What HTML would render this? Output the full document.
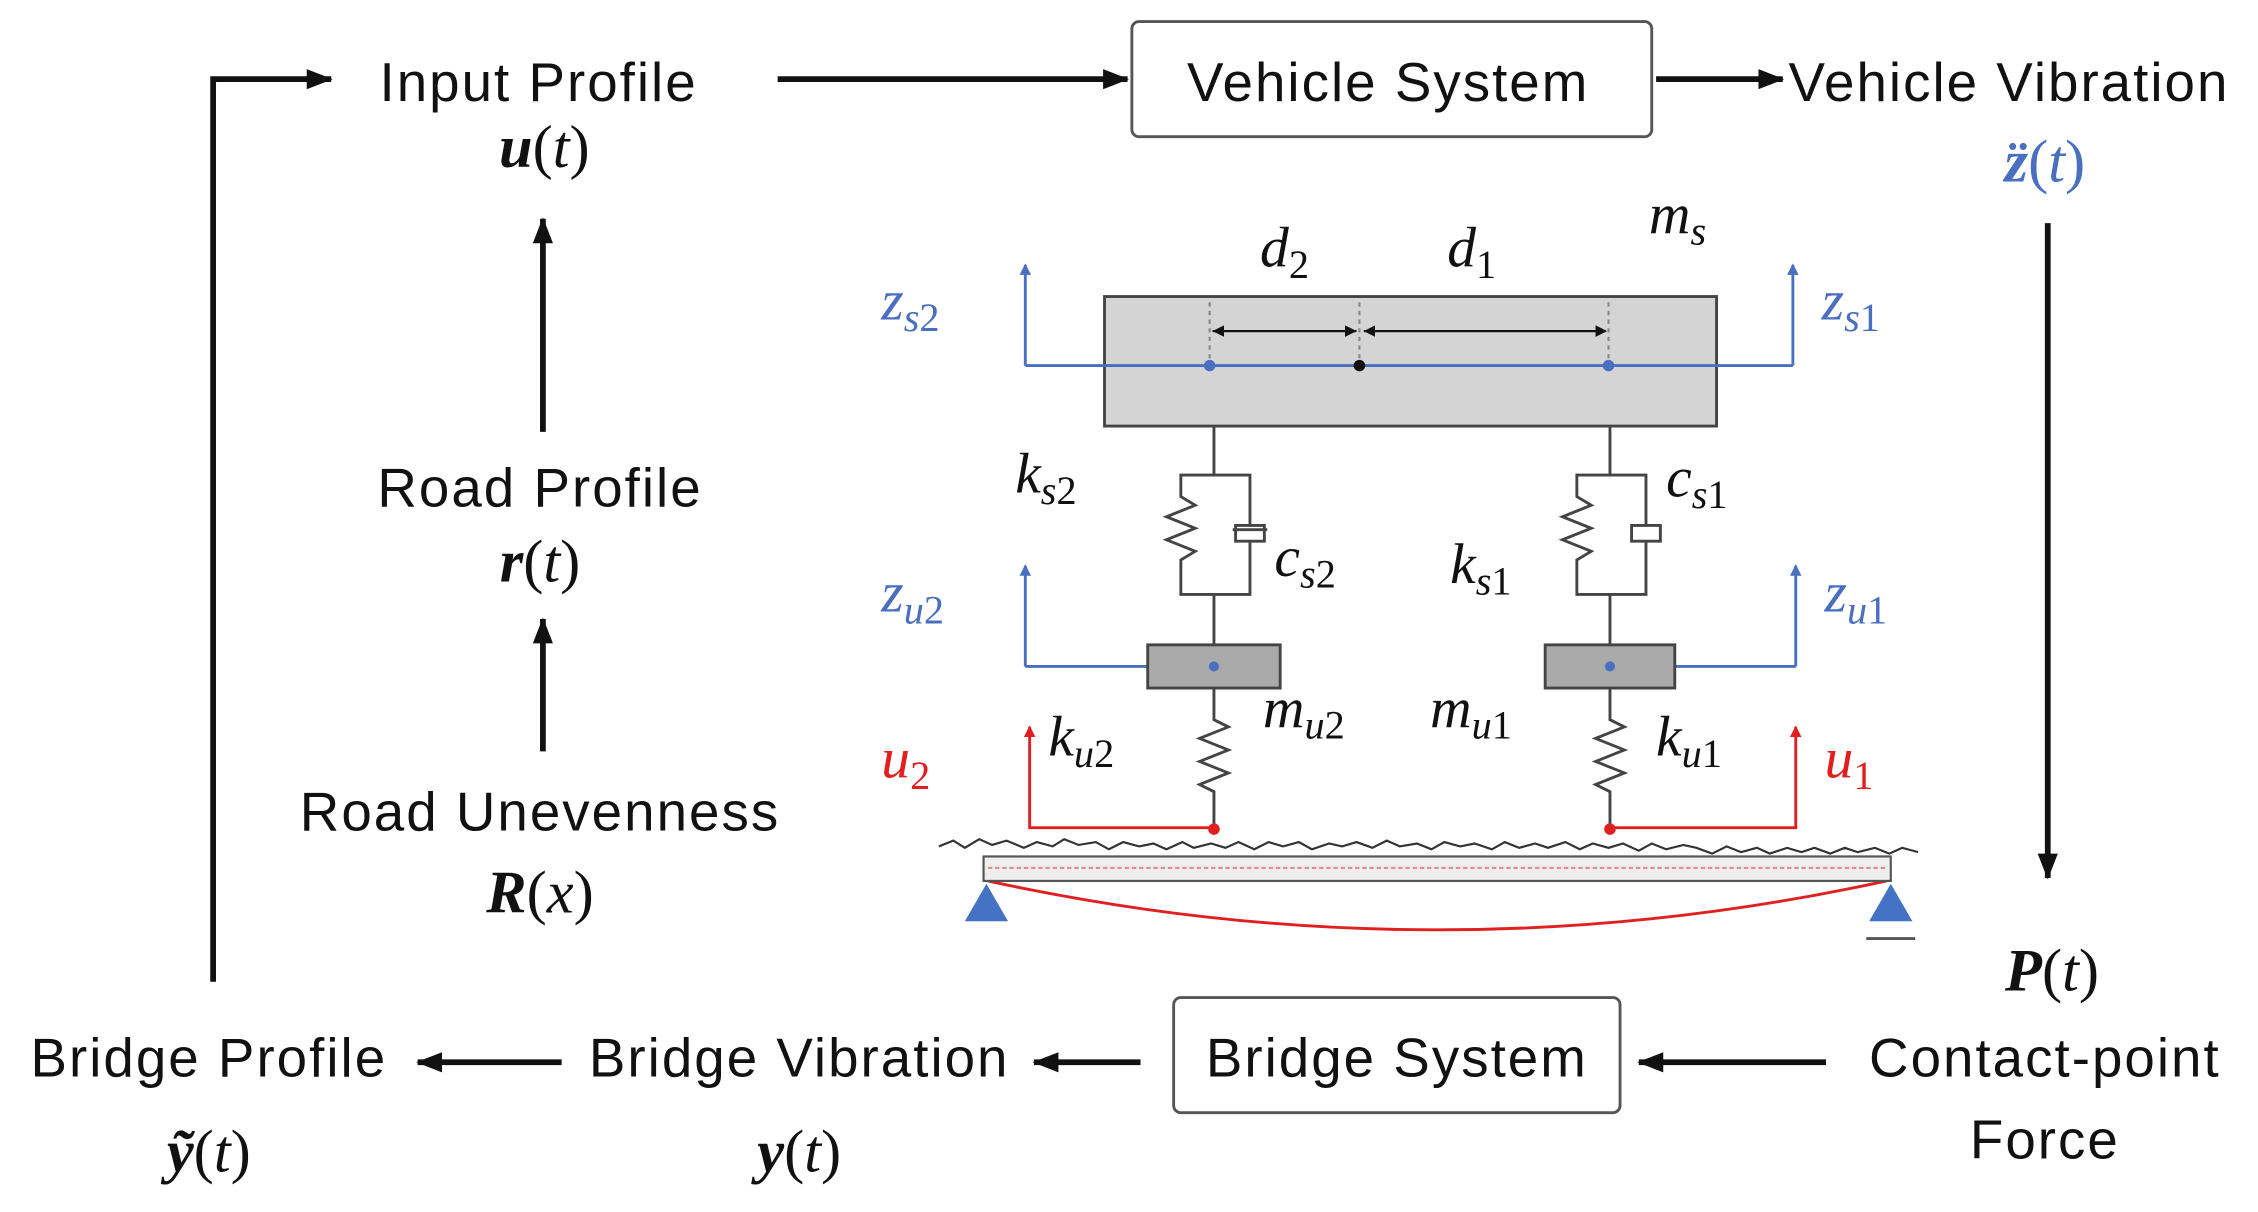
<!DOCTYPE html>
<html><head><meta charset="utf-8"><style>
html,body{margin:0;padding:0;background:#fff;}
svg{display:block;}
.t{font-family:"Liberation Sans",sans-serif;font-size:38px;letter-spacing:1.4px;fill:#111;}
.m{font-family:"Liberation Serif",serif;font-style:italic;font-size:40px;fill:#111;}
.mb{font-family:"Liberation Serif",serif;font-style:italic;font-weight:bold;font-size:42px;fill:#111;}
.p{font-style:normal;font-weight:normal;}
.b{fill:#4a6fc0;} .r{fill:#e02020;}
</style></head><body>
<svg width="2258" height="1212" viewBox="0 0 1568 842" preserveAspectRatio="none" xmlns="http://www.w3.org/2000/svg">
<defs>
<marker id="a" markerWidth="8" markerHeight="8" refX="7" refY="4" orient="auto" markerUnits="userSpaceOnUse" viewBox="0 0 8 8"><path d="M0,0 L8,4 L0,8z" fill="#111"/></marker>
<marker id="A" markerWidth="18" markerHeight="14" refX="17" refY="7" orient="auto" markerUnits="userSpaceOnUse"><path d="M0,0 L18,7 L0,14z" fill="#111"/></marker>
<marker id="bl" markerWidth="8" markerHeight="8" refX="7" refY="4" orient="auto" markerUnits="userSpaceOnUse"><path d="M0,0 L8,4 L0,8z" fill="#4a6fc0"/></marker>
<marker id="rd" markerWidth="8" markerHeight="8" refX="7" refY="4" orient="auto" markerUnits="userSpaceOnUse"><path d="M0,0 L8,4 L0,8z" fill="#e02020"/></marker>
</defs>
<g stroke="#111" stroke-width="4" fill="none">
<path d="M148,682 V55 H230" marker-end="url(#A)"/>
<path d="M540,55 H783" marker-end="url(#A)"/>
<path d="M1150,55 H1238" marker-end="url(#A)"/>
<path d="M1422,155 V610" marker-end="url(#A)"/>
<path d="M1268,738 H1138" marker-end="url(#A)"/>
<path d="M792,738 H718" marker-end="url(#A)"/>
<path d="M390,738 H290" marker-end="url(#A)"/>
<path d="M377,300 V152" marker-end="url(#A)"/>
<path d="M377,522 V430" marker-end="url(#A)"/>
</g>
<rect x="786" y="15" width="361" height="80" rx="5" fill="#fff" stroke="#555" stroke-width="2"/>
<rect x="815" y="693" width="310" height="80" rx="5" fill="#fff" stroke="#555" stroke-width="2"/>
<text class="t" x="964" y="70" text-anchor="middle">Vehicle System</text>
<text class="t" x="970" y="748" text-anchor="middle">Bridge System</text>
<text class="t" x="374" y="70" text-anchor="middle">Input Profile</text>
<text class="mb" x="378" y="116" text-anchor="middle">u<tspan class="p">(</tspan><tspan font-weight="normal">t</tspan><tspan class="p">)</tspan></text>
<text class="t" x="1242" y="70">Vehicle Vibration</text>
<text class="mb b" x="1420" y="126" text-anchor="middle">z̈<tspan class="p">(</tspan><tspan font-weight="normal">t</tspan><tspan class="p">)</tspan></text>
<text class="t" x="375" y="352" text-anchor="middle">Road Profile</text>
<text class="mb" x="375" y="404" text-anchor="middle">r<tspan class="p">(</tspan><tspan font-weight="normal">t</tspan><tspan class="p">)</tspan></text>
<text class="t" x="375" y="577" text-anchor="middle">Road Unevenness</text>
<text class="mb" x="375" y="634" text-anchor="middle">R<tspan class="p">(</tspan><tspan font-weight="normal">x</tspan><tspan class="p">)</tspan></text>
<text class="mb" x="1425" y="688" text-anchor="middle">P<tspan class="p">(</tspan><tspan font-weight="normal">t</tspan><tspan class="p">)</tspan></text>
<text class="t" x="1420" y="748" text-anchor="middle">Contact-point</text>
<text class="t" x="1420" y="805" text-anchor="middle">Force</text>
<text class="t" x="555" y="748" text-anchor="middle">Bridge Vibration</text>
<text class="mb" x="555" y="814" text-anchor="middle">y<tspan class="p">(</tspan><tspan font-weight="normal">t</tspan><tspan class="p">)</tspan></text>
<text class="t" x="145" y="748" text-anchor="middle">Bridge Profile</text>
<text class="mb" x="145" y="814" text-anchor="middle">ỹ<tspan class="p">(</tspan><tspan font-weight="normal">t</tspan><tspan class="p">)</tspan></text>
<rect x="767" y="206" width="425" height="90" fill="#d4d4d4" stroke="#444" stroke-width="2"/>
<g stroke="#888" stroke-width="1.5" stroke-dasharray="3,3"><path d="M840,210 V254 M944,210 V254 M1117,210 V254"/></g>
<g stroke="#111" stroke-width="1.5"><path d="M842,230 H941" marker-end="url(#a)"/><path d="M942,230 H843" marker-end="url(#a)"/><path d="M947,230 H1115" marker-end="url(#a)"/><path d="M1114,230 H948" marker-end="url(#a)"/></g>
<g stroke="#4a6fc0" stroke-width="2" fill="none">
<path d="M712,254 H1245"/><path d="M712,254 V184" marker-end="url(#bl)"/><path d="M1245,254 V184" marker-end="url(#bl)"/>
<path d="M712,463 H843 M1118,463 H1247"/><path d="M712,463 V393" marker-end="url(#bl)"/><path d="M1247,463 V393" marker-end="url(#bl)"/>
</g>
<circle cx="840" cy="254" r="4" fill="#4a6fc0"/><circle cx="944" cy="254" r="4" fill="#111"/><circle cx="1117" cy="254" r="4" fill="#4a6fc0"/>
<g stroke="#444" stroke-width="2" fill="none">
<path d="M843,296 V330 H820 V345 l10,6 l-20,8 l20,8 l-20,8 l20,8 l-10,6 V413 H843 V448 M843,330 H868 V365 M856,368 H880 M868,376 V413 H843 M858,365 H878 V376 H858 Z"/>
<path d="M1118,296 V330 H1095 V345 l10,6 l-20,8 l20,8 l-20,8 l20,8 l-10,6 V413 H1118 V448 M1118,330 H1143 V365 M1143,376 V413 H1118 M1133,365 H1153 V376 H1133 Z"/>
<path d="M843,478 V500 l10,5 l-20,8 l20,8 l-20,8 l20,8 l-20,8 l10,5 V575"/>
<path d="M1118,478 V500 l10,5 l-20,8 l20,8 l-20,8 l20,8 l-20,8 l10,5 V575"/>
</g>
<rect x="797" y="448" width="92" height="30" fill="#aaa" stroke="#444" stroke-width="2"/>
<rect x="1073" y="448" width="90" height="30" fill="#aaa" stroke="#444" stroke-width="2"/>
<circle cx="843" cy="463" r="3.5" fill="#4a6fc0"/><circle cx="1118" cy="463" r="3.5" fill="#4a6fc0"/>
<g stroke="#e02020" stroke-width="2" fill="none">
<path d="M843,575 H715 V505" marker-end="url(#rd)"/><path d="M1118,575 H1247 V505" marker-end="url(#rd)"/>
<path d="M686,612 Q998,680 1310,612"/>
</g>
<circle cx="843" cy="576" r="4" fill="#e02020"/><circle cx="1118" cy="576" r="4" fill="#e02020"/>
<path d="M652,588 l10,-4 l8,5 l10,-6 l9,4 l10,-3 l12,5 l9,-4 l11,3 l8,-5 l10,4 l12,-2 l9,5 l10,-5 l11,3 l10,-2 l9,4 l11,-5 l8,4 l12,-3 l10,3 l9,-4 l11,5 l10,-5 l10,3 l11,-3 l9,5 l12,-4 l9,2 l10,-3 l11,4 l10,-5 l9,4 l12,-2 l10,4 l9,-5 l11,3 l10,-2 l12,4 l9,-5 l10,4 l11,-3 l9,3 l12,-4 l10,5 l9,-4 l11,3 l10,-3 l11,5 l9,-5 l10,4 l12,-3 l9,2 l11,4 l10,-5 l10,4 l11,-3 l9,4 l12,-4 l10,3 l9,-3 l11,4 l10,-4 l9,3 l12,-3 l10,4 l9,-4 l11,3" stroke="#333" stroke-width="1.5" fill="none"/>
<rect x="683" y="595" width="630" height="17" fill="#eee" stroke="#555" stroke-width="1.5"/>
<path d="M686,603 H1310" stroke="#e88" stroke-width="1.5" stroke-dasharray="3,2"/>
<path d="M685,614 L670,640 H700 Z" fill="#4472c4"/><path d="M1313,614 L1298,640 H1328 Z" fill="#4472c4"/>
<path d="M1296,652 H1330" stroke="#555" stroke-width="2"/>
<text class="m" x="875" y="185">d<tspan class="p" font-size="28" dy="8">2</tspan></text>
<text class="m" x="1005" y="185">d<tspan class="p" font-size="28" dy="8">1</tspan></text>
<text class="m" x="1145" y="162">m<tspan font-size="28" dy="8">s</tspan></text>
<text class="m b" x="612" y="222">z<tspan font-size="28" dy="8">s</tspan><tspan class="p" font-size="28">2</tspan></text>
<text class="m b" x="1265" y="222">z<tspan font-size="28" dy="8">s</tspan><tspan class="p" font-size="28">1</tspan></text>
<text class="m" x="705" y="342">k<tspan font-size="28" dy="8">s</tspan><tspan class="p" font-size="28">2</tspan></text>
<text class="m" x="885" y="400">c<tspan font-size="28" dy="8">s</tspan><tspan class="p" font-size="28">2</tspan></text>
<text class="m" x="1157" y="345">c<tspan font-size="28" dy="8">s</tspan><tspan class="p" font-size="28">1</tspan></text>
<text class="m" x="1007" y="405">k<tspan font-size="28" dy="8">s</tspan><tspan class="p" font-size="28">1</tspan></text>
<text class="m b" x="612" y="425">z<tspan font-size="28" dy="8">u</tspan><tspan class="p" font-size="28">2</tspan></text>
<text class="m b" x="1267" y="425">z<tspan font-size="28" dy="8">u</tspan><tspan class="p" font-size="28">1</tspan></text>
<text class="m" x="877" y="505">m<tspan font-size="28" dy="8">u</tspan><tspan class="p" font-size="28">2</tspan></text>
<text class="m" x="993" y="505">m<tspan font-size="28" dy="8">u</tspan><tspan class="p" font-size="28">1</tspan></text>
<text class="m" x="728" y="525">k<tspan font-size="28" dy="8">u</tspan><tspan class="p" font-size="28">2</tspan></text>
<text class="m" x="1150" y="525">k<tspan font-size="28" dy="8">u</tspan><tspan class="p" font-size="28">1</tspan></text>
<text class="m r" x="612" y="540">u<tspan class="p" font-size="28" dy="8">2</tspan></text>
<text class="m r" x="1267" y="540">u<tspan class="p" font-size="28" dy="8">1</tspan></text>
</svg>
</body></html>
